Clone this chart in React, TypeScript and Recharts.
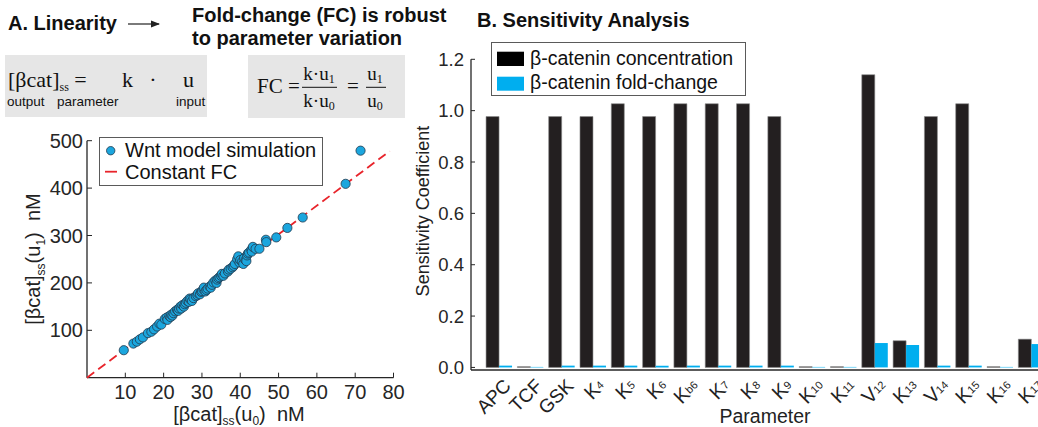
import React from 'react';
import { ScatterChart, Scatter, BarChart, Bar, XAxis, YAxis, Legend, Label } from 'recharts';

// Panel A: Wnt model simulation, [bcat]ss(u0) vs [bcat]ss(u1), nM
const simX = [
  9.6, 12.1, 13.0, 13.8, 14.6, 15.9, 16.8, 17.5, 18.3, 18.9, 19.4, 20.3, 20.8, 21.0, 21.5, 21.8, 22.0, 22.3,
  22.6, 23.0, 23.5, 23.8, 24.0, 24.4, 24.6, 24.9, 25.3, 25.5, 25.8, 26.2, 26.6, 26.8, 27.0, 27.4, 27.8, 28.4,
  28.8, 29.0, 29.5, 29.8, 30.0, 30.4, 30.5, 30.9, 31.2, 31.5, 32.0, 32.3, 32.6, 33.0, 33.5, 33.8, 34.0, 34.3,
  34.6, 35.0, 35.2, 35.6, 36.0, 36.8, 37.0, 37.5, 38.0, 38.3, 38.6, 39.2, 39.5, 39.8, 40.0, 40.5, 40.8, 41.0,
  41.4, 41.6, 41.8, 42.0, 42.3, 42.9, 43.0, 43.3, 44.0, 45.0, 46.7, 46.8, 49.4, 52.3, 56.3, 67.5, 71.4,
];
const simY = [
  58, 72, 76, 81, 85, 94, 97, 102, 108, 114, 112, 124, 127, 122, 130, 128, 133, 131,
  136, 140, 143, 141, 146, 150, 146, 153, 150, 155, 158, 162, 160, 167, 165, 162, 168, 172,
  174, 178, 176, 181, 183, 186, 190, 182, 185, 188, 192, 190, 196, 201, 205, 200, 207, 210,
  212, 215, 219, 215, 220, 224, 228, 230, 233, 236, 240, 250, 256, 243, 248, 245, 240, 252,
  248, 246, 258, 262, 264, 270, 266, 276, 272, 272, 291, 286, 296, 316, 338, 409, 479,
];
// constant fold-change line
const fcLineX = [0, 79];
const fcLineY = [0, 478];

const scatterXTicks = [10, 20, 30, 40, 50, 60, 70, 80];
const scatterYTicks = [100, 200, 300, 400, 500];

// Panel B: sensitivity coefficients
const paramBase = ['APC', 'TCF', 'GSK', 'K', 'K', 'K', 'K', 'K', 'K', 'K', 'K', 'K', 'V', 'K', 'V', 'K', 'K', 'K'];
const paramSub = ['', '', '', '4', '5', '6', 'b6', '7', '8', '9', '10', '11', '12', '13', '14', '15', '16', '17'];
const concValues = [0.977, 0.003, 0.977, 0.977, 1.027, 0.977, 1.027, 1.027, 1.027, 0.977, 0.003, 0.003, 1.14, 0.104, 0.977, 1.027, 0.003, 0.11];
const fcValues = [0.007, 0.002, 0.007, 0.007, 0.007, 0.007, 0.007, 0.007, 0.007, 0.007, 0.002, 0.002, 0.095, 0.087, 0.007, 0.007, 0.002, 0.091];
const sensTicks = [0, 0.2, 0.4, 0.6, 0.8, 1.0, 1.2];

const FONT = '"Liberation Sans", Arial, sans-serif';
const SERIF = '"Liberation Serif", "DejaVu Serif", serif';
const AXIS = '#262626';
const BLUE = '#00aeef';

const scatterData = simX.map((x, i) => ({ x, y: simY[i] }));
const fcData = fcLineX.map((x, i) => ({ x, y: fcLineY[i] }));
const barData = paramBase.map((p, i) => ({ name: p + paramSub[i], conc: concValues[i], fc: fcValues[i] }));
const names = barData.map((d) => d.name);

const dot = (p: any) => <circle cx={p.cx} cy={p.cy} r={4.6} fill="#1ba6de" stroke="#22384c" strokeWidth={0.8} />;

const legendA = () => (
  <svg width={225} height={50} style={{ display: 'block' }}>
    <rect x={0.5} y={0.5} width={223} height={48} fill="#fff" stroke="#5a5a5a" />
    <circle cx={11.7} cy={13.7} r={4.2} fill="#1ba6de" stroke="#22384c" strokeWidth={0.8} />
    <text x={26} y={20} fontFamily={FONT} fontSize={20} fill="#111">Wnt model simulation</text>
    <line x1={6} x2={18} y1={34.7} y2={34.7} stroke="#e8242b" strokeWidth={1.8} />
    <text x={26} y={42} fontFamily={FONT} fontSize={20} fill="#111">Constant FC</text>
  </svg>
);

const legendB = () => (
  <svg width={256} height={55} style={{ display: 'block' }}>
    <rect x={0.5} y={0.5} width={254} height={53} fill="#fff" stroke="#5a5a5a" />
    <rect x={6} y={9.7} width={27} height={14.3} fill="#000" />
    <text x={39} y={23} fontFamily={FONT} fontSize={19.5} fill="#111">β-catenin concentration</text>
    <rect x={6} y={34.7} width={27} height={14} fill={BLUE} />
    <text x={39} y={47} fontFamily={FONT} fontSize={19.5} fill="#111">β-catenin fold-change</text>
  </svg>
);

const yLabelA = () => (
  <text transform="translate(40,259) rotate(-90)" textAnchor="middle" fontFamily={FONT} fontSize={20} fill="#222">
    [βcat]<tspan fontSize={12} dy={5}>ss</tspan>
    <tspan dy={-5}>(u</tspan>
    <tspan fontSize={12} dy={5}>1</tspan>
    <tspan dy={-5}>){'\u00a0\u00a0'}nM</tspan>
  </text>
);

const xLabelA = () => (
  <text x={239} y={421} textAnchor="middle" fontFamily={FONT} fontSize={20} fill="#222">
    [βcat]<tspan fontSize={12} dy={4}>ss</tspan>
    <tspan dy={-4}>(u</tspan>
    <tspan fontSize={12} dy={4}>0</tspan>
    <tspan dy={-4}>){'\u00a0\u00a0'}nM</tspan>
  </text>
);

const yLabelB = () => (
  <text transform="translate(29,211) rotate(-90)" textAnchor="middle" fontFamily={FONT} fontSize={18} fill="#222">
    Sensitivity Coefficient
  </text>
);

const ParamTick = (props: any) => {
  const { x, y, payload } = props;
  const i = names.indexOf(payload.value);
  const sub = paramSub[i];
  return (
    <g transform={`translate(${x + 13},${y + 17})`}>
      <text transform="rotate(-45)" textAnchor="end" fontFamily={FONT} fontSize={sub ? 20 : 19} fill="#222">
        {paramBase[i]}
        {sub ? <tspan fontSize={11} dy={-2}>{sub}</tspan> : null}
      </text>
    </g>
  );
};

const Header = () => (
  <svg width={1038} height={427} style={{ position: 'absolute', left: 0, top: 0, pointerEvents: 'none' }}>
    <defs>
      <marker id="arr" markerWidth="8" markerHeight="8" refX="7" refY="4" orient="auto">
        <path d="M0,1 L8,4 L0,7 Z" fill="#222" />
      </marker>
    </defs>
    <text x={8} y={30} fontFamily={FONT} fontWeight="bold" fontSize={20} fill="#111">A. Linearity</text>
    <line x1={128} x2={159} y1={24} y2={24} stroke="#222" strokeWidth={1.2} markerEnd="url(#arr)" />
    <text x={192} y={22} fontFamily={FONT} fontWeight="bold" fontSize={20} fill="#111">Fold-change (FC) is robust</text>
    <text x={192} y={45} fontFamily={FONT} fontWeight="bold" fontSize={20} fill="#111">to parameter variation</text>
    <text x={477} y={27} fontFamily={FONT} fontWeight="bold" fontSize={20} fill="#111">B. Sensitivity Analysis</text>

    <rect x={5} y={55} width={202} height={62} fill="#e6e6e6" />
    <text x={8} y={87} fontFamily={SERIF} fontSize={22} fill="#111">
      [βcat]<tspan fontSize={12} dy={4}>ss</tspan>
      <tspan dy={-4}>{' ='}</tspan>
    </text>
    <text x={122} y={87} fontFamily={SERIF} fontSize={22} fill="#111">k</text>
    <text x={153} y={87} fontFamily={SERIF} fontSize={22} fill="#111" textAnchor="middle">·</text>
    <text x={183} y={87} fontFamily={SERIF} fontSize={22} fill="#111">u</text>
    <text x={7} y={106} fontFamily={FONT} fontSize={13.5} fill="#111">output</text>
    <text x={57} y={106} fontFamily={FONT} fontSize={13.5} fill="#111">parameter</text>
    <text x={176} y={106} fontFamily={FONT} fontSize={13.5} fill="#111">input</text>

    <rect x={248} y={55} width={157} height={63} fill="#e6e6e6" />
    <text x={257} y={93} fontFamily={SERIF} fontSize={21} fill="#111">FC =</text>
    <text x={319} y={80} fontFamily={SERIF} fontSize={19} fill="#111" textAnchor="middle">
      k·u<tspan fontSize={12} dy={3}>1</tspan>
    </text>
    <line x1={302} x2={337} y1={87.3} y2={87.3} stroke="#111" strokeWidth={1} />
    <text x={319} y={107} fontFamily={SERIF} fontSize={19} fill="#111" textAnchor="middle">
      k·u<tspan fontSize={12} dy={3}>0</tspan>
    </text>
    <text x={347} y={93} fontFamily={SERIF} fontSize={21} fill="#111">=</text>
    <text x={375} y={80} fontFamily={SERIF} fontSize={19} fill="#111" textAnchor="middle">
      u<tspan fontSize={12} dy={3}>1</tspan>
    </text>
    <line x1={366} x2={386} y1={87.3} y2={87.3} stroke="#111" strokeWidth={1} />
    <text x={375} y={107} fontFamily={SERIF} fontSize={19} fill="#111" textAnchor="middle">
      u<tspan fontSize={12} dy={3}>0</tspan>
    </text>
  </svg>
);

export default function App() {
  return (
    <div style={{ position: 'fixed', left: 0, top: 0, width: 1038, height: 427, overflow: 'hidden', background: '#fff' }}>
      <div style={{ position: 'absolute', left: 0, top: 0 }}>
        <ScatterChart width={420} height={427} margin={{ top: 140.7, right: 26.5, bottom: 19.3, left: 27 }}>
          <XAxis
            type="number"
            dataKey="x"
            domain={[0, 80]}
            ticks={scatterXTicks}
            height={30}
            tickSize={-5}
            tickMargin={12.3}
            stroke={AXIS}
            axisLine={{ stroke: AXIS, strokeWidth: 1.3 }}
            tick={{ fill: '#262626', fontSize: 20, fontFamily: FONT }}
          >
            <Label content={xLabelA} />
          </XAxis>
          <YAxis
            type="number"
            dataKey="y"
            domain={[0, 500]}
            ticks={scatterYTicks}
            width={60}
            tickSize={-5}
            tickMargin={9}
            stroke={AXIS}
            axisLine={{ stroke: AXIS, strokeWidth: 1.3 }}
            tick={{ fill: '#262626', fontSize: 20, fontFamily: FONT }}
          >
            <Label content={yLabelA} />
          </YAxis>
          <Scatter
            data={fcData}
            line={{ stroke: '#e8242b', strokeWidth: 1.8, strokeDasharray: '9 5' }}
            shape={() => <g />}
            legendType="none"
            isAnimationActive={false}
          />
          <Scatter data={scatterData} shape={dot} name="Wnt model simulation" isAnimationActive={false} />
          <Legend
            layout="horizontal"
            verticalAlign="middle"
            align="center"
            content={legendA}
            wrapperStyle={{ position: 'absolute', left: 99, top: 137, width: 225, height: 50 }}
          />
        </ScatterChart>
      </div>
      <div style={{ position: 'absolute', left: 400, top: 0 }}>
        <BarChart
          width={659}
          height={427}
          data={barData}
          margin={{ top: 59.3, right: 0, bottom: 0, left: 21 }}
          barCategoryGap={2.65}
          barGap={0}
        >
          <XAxis
            dataKey="name"
            height={57}
            padding={{ left: 12.4, right: 12 }}
            interval={0}
            tickLine={false}
            tickSize={0}
            tickMargin={0}
            tick={<ParamTick />}
            axisLine={{ stroke: AXIS, strokeWidth: 1.5 }}
          >
            <Label value="Parameter" position="insideBottom" offset={4} fill="#222" fontSize={19.5} fontFamily={FONT} />
          </XAxis>
          <YAxis
            domain={[-0.01, 1.2]}
            ticks={sensTicks}
            tickFormatter={(v: number) => v.toFixed(1)}
            width={50}
            tickSize={-4}
            tickMargin={11}
            stroke={AXIS}
            axisLine={{ stroke: AXIS, strokeWidth: 1.3 }}
            tick={{ fill: '#262626', fontSize: 18.5, fontFamily: FONT }}
          >
            <Label content={yLabelB} />
          </YAxis>
          <Bar dataKey="conc" name="β-catenin concentration" fill="#231f20" stroke="#8c8c8c" strokeWidth={0.6} isAnimationActive={false} />
          <Bar dataKey="fc" name="β-catenin fold-change" fill={BLUE} isAnimationActive={false} />
          <Legend
            layout="horizontal"
            verticalAlign="middle"
            align="center"
            content={legendB}
            wrapperStyle={{ position: 'absolute', left: 91, top: 42, width: 256, height: 55 }}
          />
        </BarChart>
      </div>
      <Header />
    </div>
  );
}
